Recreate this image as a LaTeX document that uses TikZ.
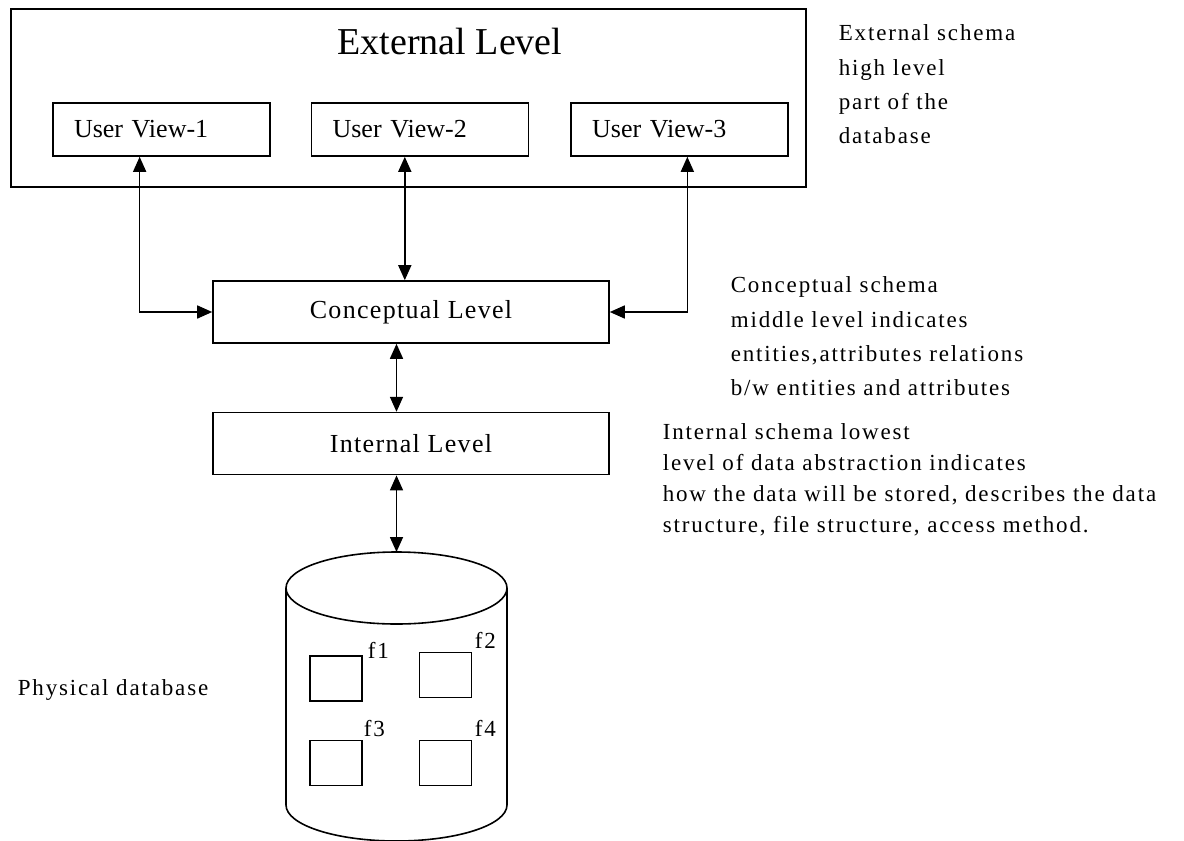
\documentclass[tikz,border=0pt]{standalone}
\usepackage{fontspec}
\setmainfont{Liberation Serif}
\newfontfamily\notefont[LetterSpace=8]{Liberation Serif}
\newfontfamily\levelfont[LetterSpace=5]{Liberation Serif}
\usetikzlibrary{positioning,arrows.meta,calc}

\begin{document}
\begin{tikzpicture}[
    x=1pt, y=-1pt,
    line width=1.6pt,
    box/.style={draw, inner sep=0pt, minimum height=53pt},
    viewbox/.style={box, font=\fontsize{26}{30}\selectfont, minimum width=217pt, text width=175pt, inner xsep=21pt, align=left},
    levelbox/.style={box, font=\levelfont\fontsize{26}{30}\selectfont, minimum width=396pt, minimum height=62pt},
    filebox/.style={draw, minimum width=52pt, minimum height=45pt, inner sep=0pt},
    note/.style={font=\notefont\fontsize{23}{34.3}\selectfont, align=left, inner sep=0pt},
    arr/.style={{Triangle[length=15pt,width=13pt]}-{Triangle[length=15pt,width=13pt]}}
]
\useasboundingbox (0,0) rectangle (1184,841);
% external level
\node[draw, minimum width=795pt, minimum height=178pt] (ext) at (408.5,98) {};
\node[anchor=base, inner sep=0pt, font=\fontsize{38}{42}\selectfont] (title) at (450,54) {External Level};
\node[viewbox] (v1) at (161.5,129.5) {User View-1};
\node[viewbox, right=40pt of v1] (v2) {User View-2};
\node[viewbox, right=41pt of v2] (v3) {User View-3};
% conceptual and internal levels
\node[levelbox] (cl) at (411,312) {Conceptual Level};
\node[levelbox, below=68pt of cl] (il) {Internal Level};
% physical database
\coordinate (dbtop) at (396.5,552);
\draw (286,588) -- (286,805) arc[start angle=180, end angle=360, x radius=110.5pt, y radius=36pt] -- (507,588);
\draw (396.5,588) ellipse[x radius=110.5pt, y radius=36pt];
\node[filebox] (fb1) at (336,678.5) {};
\node[filebox] (fb2) at (445.5,675) {};
\node[filebox] (fb3) at (336,763) {};
\node[filebox] (fb4) at (445.5,763) {};
\node[note, anchor=base west] (f1) at (367,658) {f1};
\node[note, anchor=base west] (f2) at (474,648) {f2};
\node[note, anchor=base west] (f3) at (363,736) {f3};
\node[note, anchor=base west] (f4) at (474,736) {f4};
% notes
\node[note, anchor=north west] (extnote) at (838,24) {External schema\\high level\\part of the\\database};
\node[note, anchor=north west] (clnote) at (730,276) {Conceptual schema\\middle level indicates\\entities,attributes relations\\b/w entities and attributes};
\node[note, anchor=north west, font=\notefont\fontsize{23}{31}\selectfont] (ilnote) at (662,423) {Internal schema lowest\\level of data abstraction indicates\\how the data will be stored, describes the data\\structure, file structure, access method.};
\node[note, anchor=base west] (phys) at (17,695) {Physical database};
% connectors
\coordinate (p1) at ($(v1.south west)!0.4!(v1.south east)$);
\coordinate (p2) at ($(v2.south west)!0.43!(v2.south east)$);
\coordinate (p3) at ($(v3.south west)!0.535!(v3.south east)$);
\draw[arr] (p1) |- (cl.west);
\draw[arr] (p2) -- (p2 |- cl.north);
\draw[arr] (p3) |- (cl.east);
\draw[arr] (cl.south -| dbtop) -- (il.north -| dbtop);
\draw[arr] (il.south -| dbtop) -- (dbtop);
\end{tikzpicture}
\end{document}
